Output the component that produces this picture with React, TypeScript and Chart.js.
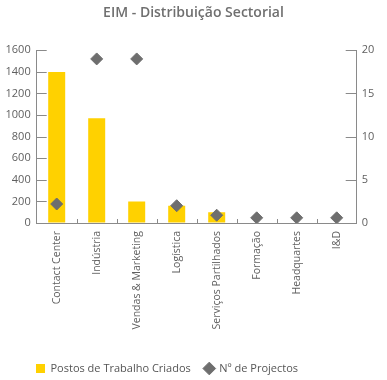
import React, { useEffect, useRef } from "react";
import { Chart, registerables } from "chart.js";

Chart.register(...registerables);

const categories = [
  "Contact Center",
  "Indústria",
  "Vendas & Marketing",
  "Logística",
  "Serviços Partilhados",
  "Formação",
  "Headquartes",
  "I&D",
];
const postosTrabalho = [1400, 970, 200, 160, 100, 0, 0, 0];
const nProjectos = [2.2, 19, 19, 2, 0.9, 0.6, 0.6, 0.6];
const leftTicks = { min: 0, max: 1600, step: 200 };
const rightTicks = { min: 0, max: 20, step: 5 };

const GREY_TEXT = "#5f5f5f";
const AXIS = "#8a8a8a";
const YELLOW = "#FFD100";
const DIAMOND = "#6e6e6e";

const innerTicks = {
  id: "innerTicks",
  afterLayout(chart: any) {
    const lg = chart.legend;
    if (lg) {
      lg.left = 22;
      lg.top += 8;
      lg.bottom += 8;
    }
  },
  beforeDatasetsDraw(chart: any) {
    const { ctx, chartArea } = chart;
    const y = chart.scales.y;
    const y1 = chart.scales.y1;
    const x = chart.scales.x;
    ctx.save();
    ctx.strokeStyle = AXIS;
    ctx.lineWidth = 1;
    ctx.beginPath();
    y.ticks.forEach((_t: any, i: number) => {
      const py = Math.round(y.getPixelForTick(i)) + 0.5;
      ctx.moveTo(chartArea.left, py);
      ctx.lineTo(chartArea.left + 10, py);
    });
    y1.ticks.forEach((_t: any, i: number) => {
      const py = Math.round(y1.getPixelForTick(i)) + 0.5;
      ctx.moveTo(chartArea.right - 11, py);
      ctx.lineTo(chartArea.right, py);
    });
    for (let i = 0; i < x.ticks.length - 1; i++) {
      const px = Math.round((x.getPixelForTick(i) + x.getPixelForTick(i + 1)) / 2) + 0.5;
      ctx.moveTo(px, chartArea.bottom);
      ctx.lineTo(px, chartArea.bottom - 4);
    }
    ctx.stroke();
    ctx.restore();
  },
};

export default function App() {
  const ref = useRef<HTMLCanvasElement>(null);
  useEffect(() => {
    document.body.style.margin = "0";
    if (!ref.current) return;
    const chart = new Chart(ref.current, {
      type: "bar",
      data: {
        labels: categories,
        datasets: [
          {
            type: "line",
            label: "Nº de Projectos",
            data: nProjectos,
            yAxisID: "y1",
            showLine: false,
            pointStyle: "rectRot",
            pointRadius: 6,
            pointBackgroundColor: DIAMOND,
            pointBorderColor: DIAMOND,
            backgroundColor: DIAMOND,
            borderColor: DIAMOND,
            order: 0,
          } as any,
          {
            type: "bar",
            label: "Postos de Trabalho Criados",
            data: postosTrabalho,
            yAxisID: "y",
            backgroundColor: YELLOW,
            borderWidth: 0,
            categoryPercentage: 0.85,
            barPercentage: 0.5,
            pointStyle: "rect",
            order: 1,
          } as any,
        ],
      },
      options: {
        animation: false,
        responsive: false,
        maintainAspectRatio: false,
        layout: { padding: { left: 0, right: 0, top: 0, bottom: 4 } },
        plugins: {
          title: {
            display: true,
            text: "EIM - Distribuição Sectorial",
            color: "#6f6f6f",
            font: { family: "Open Sans", size: 14, weight: "600" },
            padding: { top: 5, bottom: 28.5 },
          },
          legend: {
            position: "bottom",
            align: "start",
            reverse: true,
            labels: {
              usePointStyle: true,
              boxWidth: 9,
              boxHeight: 9,
              padding: 14,
              color: "#555555",
              font: { family: "Open Sans", size: 11 },
            },
          },
          tooltip: { enabled: false },
        },
        scales: {
          x: {
            grid: { display: true, drawOnChartArea: false, drawTicks: false, offset: true },
            border: { display: true, color: AXIS },
            ticks: {
              color: GREY_TEXT,
              font: { family: "Open Sans", size: 10.5 },
              minRotation: 90,
              maxRotation: 90,
              padding: 8,
              autoSkip: false,
            },
            afterFit(scale: any) {
              scale.height = 118;
            },
          },
          y: {
            position: "left",
            min: leftTicks.min,
            max: leftTicks.max,
            grid: { display: true, drawOnChartArea: false, drawTicks: false },
            border: { display: true, color: AXIS },
            ticks: {
              stepSize: leftTicks.step,
              color: GREY_TEXT,
              font: { family: "Open Sans", size: 11 },
              padding: 6,
              callback: (v: any) => String(v),
            },
            afterFit(scale: any) {
              scale.width = 36.7;
            },
          },
          y1: {
            position: "right",
            min: rightTicks.min,
            max: rightTicks.max,
            grid: { display: true, drawOnChartArea: false, drawTicks: false },
            border: { display: true, color: AXIS },
            ticks: {
              stepSize: rightTicks.step,
              color: GREY_TEXT,
              font: { family: "Open Sans", size: 11 },
              padding: 5,
              callback: (v: any) => String(v),
            },
            afterFit(scale: any) {
              scale.width = 30.3;
            },
          },
        },
      } as any,
      plugins: [innerTicks],
    });
    return () => chart.destroy();
  }, []);
  return (
    <div style={{ width: 387, height: 380, background: "#fff" }}>
      <canvas ref={ref} width={387} height={380} style={{ display: "block" }} />
    </div>
  );
}
